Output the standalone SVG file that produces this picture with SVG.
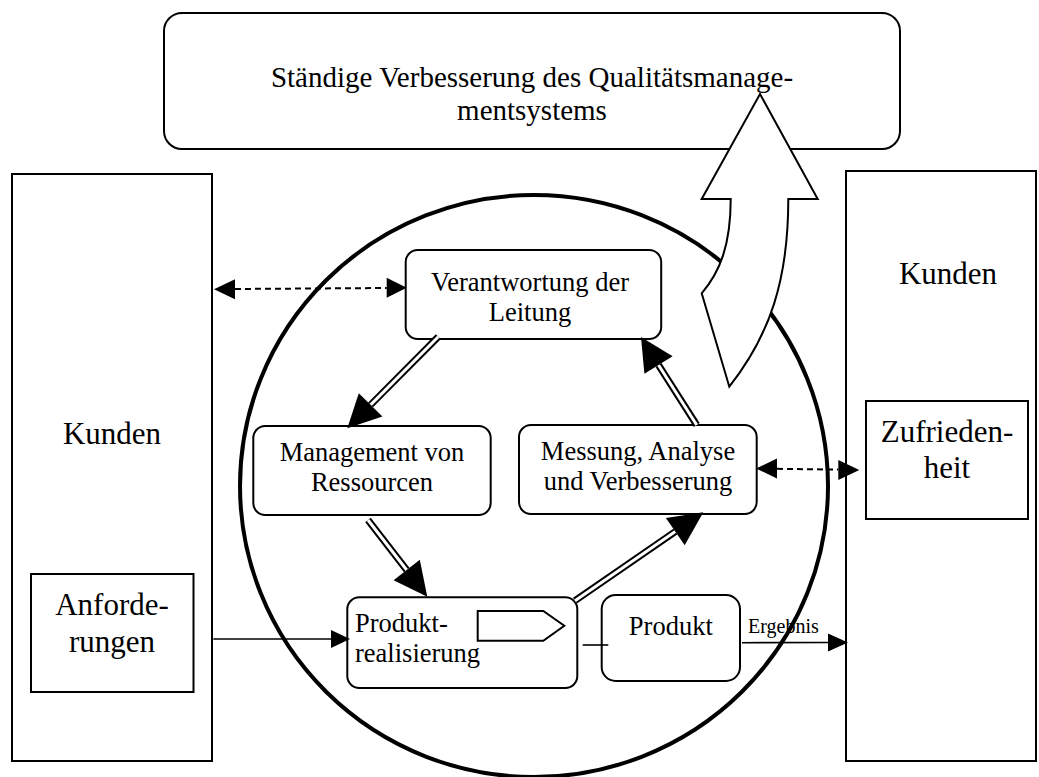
<svg xmlns="http://www.w3.org/2000/svg" width="1039" height="777" viewBox="0 0 1039 777">
<style>
.box{fill:#fff;stroke:#000;stroke-width:2}
.t{font-family:"Liberation Serif","Times New Roman",serif;fill:#000}
.m{font-size:26.5px}
.l{font-size:31px}
.dash{stroke:#000;stroke-width:2;stroke-dasharray:6 4;fill:none}
.thin{stroke:#000;stroke-width:1.6;fill:none}
.dbl-o{stroke:#000;stroke-width:7;fill:none}
.dbl-i{stroke:#fff;stroke-width:3;fill:none}
.head{fill:#000;stroke:none}
</style>
<rect width="1039" height="777" fill="#fff"/>

<g id="kunden-links">
<rect class="box" x="12" y="174" width="200" height="587"/>
<text class="t l" x="112" y="444" text-anchor="middle">Kunden</text>
</g>
<g id="anforderungen">
<rect class="box" x="31" y="574" width="162.5" height="118"/>
<text class="t l" x="112" y="615" text-anchor="middle">Anforde-</text>
<text class="t l" x="112" y="652" text-anchor="middle">rungen</text>
</g>

<g id="kunden-rechts">
<rect class="box" x="846" y="171" width="190" height="590"/>
<text class="t l" x="948" y="284" text-anchor="middle">Kunden</text>
</g>
<g id="zufriedenheit">
<rect class="box" x="866" y="401" width="162" height="118"/>
<text class="t l" x="947" y="442" text-anchor="middle">Zufrieden-</text>
<text class="t l" x="947" y="478" text-anchor="middle">heit</text>
</g>

<g id="verbesserung">
<rect class="box" x="164" y="13" width="736" height="136" rx="18"/>
<text class="t" style="font-size:29px" x="532" y="87" text-anchor="middle">Ständige Verbesserung des Qualitätsmanage-</text>
<text class="t" style="font-size:29px" x="532" y="120" text-anchor="middle">mentsystems</text>
</g>

<g id="kreis">
<ellipse cx="534" cy="486" rx="294" ry="291" fill="none" stroke="#000" stroke-width="4"/>
</g>

<g id="verantwortung">
<rect class="box" x="405.7" y="250" width="255.5" height="89" rx="12"/>
<text class="t m" x="530" y="291" text-anchor="middle">Verantwortung der</text>
<text class="t m" x="530" y="321" text-anchor="middle">Leitung</text>
</g>

<g id="management">
<rect class="box" x="253.3" y="426" width="237.4" height="89" rx="12"/>
<text class="t m" x="372" y="461" text-anchor="middle">Management von</text>
<text class="t m" x="372" y="491" text-anchor="middle">Ressourcen</text>
</g>

<g id="messung">
<rect class="box" x="519" y="425" width="237.7" height="89" rx="12"/>
<text class="t m" x="638" y="460" text-anchor="middle">Messung, Analyse</text>
<text class="t m" x="638" y="490" text-anchor="middle">und Verbesserung</text>
</g>

<g id="produktrealisierung">
<rect class="box" x="347.3" y="597.3" width="230" height="90.7" rx="12"/>
<text class="t m" x="355" y="632">Produkt-</text>
<text class="t m" x="355" y="662">realisierung</text>
<polygon points="477.7,611 543.3,611 564.3,625.7 543.3,640.7 477.7,640.7" fill="#fff" stroke="#000" stroke-width="2"/>
</g>

<g id="produkt">
<rect class="box" x="601.7" y="595" width="138.3" height="86" rx="14"/>
<text class="t m" x="670.8" y="635" text-anchor="middle">Produkt</text>
</g>

<g id="pfeil-verbesserung">
<path d="M760,94 L817.7,199 L788.3,199 C788.3,280 770,335 729.3,386.7 L701.7,293.3 C720,272 730.7,245 730.7,199 L701.7,199 Z" fill="#fff" stroke="#000" stroke-width="2" stroke-linejoin="miter"/>
</g>

<g id="connectors">
<line class="dash" x1="235" y1="289" x2="386.7" y2="288"/>
<polygon class="head" points="214,289.3 235,279.3 235,299.3"/>
<polygon class="head" points="406.7,287.7 386.7,277.7 386.7,297.7"/>

<line class="dash" x1="777" y1="468.8" x2="838.3" y2="469.6"/>
<polygon class="head" points="756,468.5 777,458.5 777,478.5"/>
<polygon class="head" points="859.3,470 838.3,460 838.3,480"/>

<line class="dbl-o" x1="438.3" y1="336.7" x2="370.6" y2="404.9"/>
<line class="dbl-i" x1="438.3" y1="336.7" x2="370.6" y2="404.9"/>
<polygon class="head" points="347.3,428.3 382.4,416.6 358.8,393.2"/>

<line class="dbl-o" x1="368" y1="520" x2="406.7" y2="570"/>
<line class="dbl-i" x1="368" y1="520" x2="406.7" y2="570"/>
<polygon class="head" points="427.3,596.7 419.8,559.8 393.6,580.2"/>

<line class="dbl-o" x1="575" y1="600.7" x2="675.3" y2="531.6"/>
<line class="dbl-i" x1="575" y1="600.7" x2="675.3" y2="531.6"/>
<polygon class="head" points="703.3,512.3 684.7,545.3 665.9,517.9"/>

<line class="dbl-o" x1="696.7" y1="425" x2="658.5" y2="365"/>
<line class="dbl-i" x1="696.7" y1="425" x2="658.5" y2="365"/>
<polygon class="head" points="641,337 672.6,356.2 644.4,373.8"/>

<line class="thin" x1="213.3" y1="639" x2="332" y2="639"/>
<polygon class="head" points="350,639 331,630 331,648"/>

<line class="thin" x1="582.7" y1="645" x2="608.3" y2="645"/>

<line class="thin" x1="742" y1="642.7" x2="829" y2="642.5"/>
<polygon class="head" points="848,642.5 828,633.5 828,651.5"/>
<text class="t" style="font-size:20px" x="748" y="633">Ergebnis</text>
</g>
</svg>
